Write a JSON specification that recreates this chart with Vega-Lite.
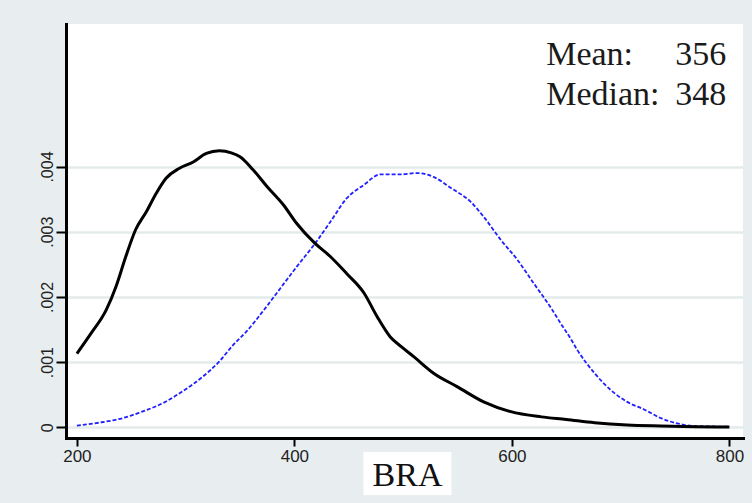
{
  "$schema": "https://vega.github.io/schema/vega-lite/v6.json",
  "width": 677,
  "height": 414,
  "autosize": "none",
  "padding": {"left": 66, "top": 24, "right": 9, "bottom": 65},
  "background": "#e8eef0",
  "config": {"view": {"fill": "white", "stroke": null}},
  "datasets": {
    "dens": [
      {"series": "BRA", "score": 200, "density": 0.00113},
      {"series": "BRA", "score": 213, "density": 0.00144},
      {"series": "BRA", "score": 227, "density": 0.0018},
      {"series": "BRA", "score": 236, "density": 0.00216},
      {"series": "BRA", "score": 245, "density": 0.00262},
      {"series": "BRA", "score": 254, "density": 0.00303},
      {"series": "BRA", "score": 264, "density": 0.00331},
      {"series": "BRA", "score": 273, "density": 0.00359},
      {"series": "BRA", "score": 282, "density": 0.00382},
      {"series": "BRA", "score": 294, "density": 0.00397},
      {"series": "BRA", "score": 307, "density": 0.00407},
      {"series": "BRA", "score": 319, "density": 0.0042},
      {"series": "BRA", "score": 331, "density": 0.00424},
      {"series": "BRA", "score": 342, "density": 0.00421},
      {"series": "BRA", "score": 350, "density": 0.00415},
      {"series": "BRA", "score": 362, "density": 0.00395},
      {"series": "BRA", "score": 375, "density": 0.00369},
      {"series": "BRA", "score": 390, "density": 0.00341},
      {"series": "BRA", "score": 402, "density": 0.00313},
      {"series": "BRA", "score": 419, "density": 0.00282},
      {"series": "BRA", "score": 433, "density": 0.00262},
      {"series": "BRA", "score": 448, "density": 0.00236},
      {"series": "BRA", "score": 464, "density": 0.00206},
      {"series": "BRA", "score": 476, "density": 0.0017},
      {"series": "BRA", "score": 488, "density": 0.00139},
      {"series": "BRA", "score": 498, "density": 0.00124},
      {"series": "BRA", "score": 510, "density": 0.00108},
      {"series": "BRA", "score": 528, "density": 0.00083},
      {"series": "BRA", "score": 550, "density": 0.00062},
      {"series": "BRA", "score": 574, "density": 0.00039},
      {"series": "BRA", "score": 599, "density": 0.00024},
      {"series": "BRA", "score": 627, "density": 0.00016},
      {"series": "BRA", "score": 650, "density": 0.00012},
      {"series": "BRA", "score": 676, "density": 0.00007},
      {"series": "BRA", "score": 706, "density": 0.000035},
      {"series": "BRA", "score": 737, "density": 0.00002},
      {"series": "BRA", "score": 768, "density": 0.00001},
      {"series": "BRA", "score": 800, "density": 0.000005},
      {"series": "Reference", "score": 200, "density": 0.000025},
      {"series": "Reference", "score": 220, "density": 0.00007},
      {"series": "Reference", "score": 242, "density": 0.00014},
      {"series": "Reference", "score": 260, "density": 0.00024},
      {"series": "Reference", "score": 279, "density": 0.00037},
      {"series": "Reference", "score": 297, "density": 0.00055},
      {"series": "Reference", "score": 316, "density": 0.00078},
      {"series": "Reference", "score": 331, "density": 0.00101},
      {"series": "Reference", "score": 343, "density": 0.00125},
      {"series": "Reference", "score": 356, "density": 0.00147},
      {"series": "Reference", "score": 372, "density": 0.0018},
      {"series": "Reference", "score": 387, "density": 0.00213},
      {"series": "Reference", "score": 402, "density": 0.00246},
      {"series": "Reference", "score": 419, "density": 0.00282},
      {"series": "Reference", "score": 433, "density": 0.00315},
      {"series": "Reference", "score": 448, "density": 0.00351},
      {"series": "Reference", "score": 464, "density": 0.00372},
      {"series": "Reference", "score": 479, "density": 0.00388},
      {"series": "Reference", "score": 498, "density": 0.00388},
      {"series": "Reference", "score": 513, "density": 0.0039},
      {"series": "Reference", "score": 528, "density": 0.00384},
      {"series": "Reference", "score": 544, "density": 0.00367},
      {"series": "Reference", "score": 562, "density": 0.00346},
      {"series": "Reference", "score": 574, "density": 0.00323},
      {"series": "Reference", "score": 590, "density": 0.00287},
      {"series": "Reference", "score": 605, "density": 0.00257},
      {"series": "Reference", "score": 620, "density": 0.00221},
      {"series": "Reference", "score": 636, "density": 0.00183},
      {"series": "Reference", "score": 645, "density": 0.00159},
      {"series": "Reference", "score": 654, "density": 0.00136},
      {"series": "Reference", "score": 660, "density": 0.00119},
      {"series": "Reference", "score": 676, "density": 0.00083},
      {"series": "Reference", "score": 691, "density": 0.00057},
      {"series": "Reference", "score": 706, "density": 0.00039},
      {"series": "Reference", "score": 722, "density": 0.00027},
      {"series": "Reference", "score": 737, "density": 0.00014},
      {"series": "Reference", "score": 752, "density": 0.00006},
      {"series": "Reference", "score": 768, "density": 0.00002},
      {"series": "Reference", "score": 800, "density": 0.00001}
    ],
    "stats": [
      {"stat": "Mean:", "value": 356},
      {"stat": "Median:", "value": 348}
    ]
  },
  "encoding": {
    "x": {
      "type": "quantitative",
      "scale": {"domain": [190, 812.5], "nice": false, "zero": false},
      "axis": {
        "values": [200, 400, 600, 800],
        "grid": false,
        "zindex": 1,
        "domainColor": "black",
        "domainWidth": 3,
        "domainCap": "square",
        "tickColor": "black",
        "tickWidth": 2,
        "tickSize": 8,
        "labelFont": "Liberation Sans",
        "labelFontSize": 17,
        "labelColor": "#222222",
        "labelPadding": 2,
        "title": "BRA",
        "titleFont": "Liberation Serif",
        "titleFontSize": 34,
        "titleFontWeight": "normal",
        "titleColor": "#111111",
        "titleBaseline": "alphabetic",
        "titleY": 47,
        "titleX": 341
      }
    },
    "y": {
      "type": "quantitative",
      "scale": {"domain": [-0.000164, 0.006186], "nice": false, "zero": false},
      "axis": {
        "values": [0, 0.001, 0.002, 0.003, 0.004],
        "grid": true,
        "gridColor": "#e3ebeb",
        "gridWidth": 2.5,
        "domainColor": "black",
        "domainWidth": 3,
        "domainCap": "square",
        "tickColor": "black",
        "tickWidth": 2,
        "tickSize": 10,
        "labelAngle": -90,
        "labelAlign": "center",
        "labelBaseline": "bottom",
        "labelFont": "Liberation Sans",
        "labelFontSize": 16,
        "labelColor": "#222222",
        "labelPadding": 1,
        "labelExpr": "datum.value == 0 ? '0' : replace(format(datum.value, '.3f'), '0.', '.')",
        "title": null
      }
    }
  },
  "layer": [
    {
      "data": {"values": [{"box": "title"}]},
      "mark": {"type": "rect", "color": "white"},
      "encoding": {
        "x": {"datum": 463.5, "type": "quantitative"},
        "x2": {"datum": 544.4},
        "y": {"datum": -0.000379, "type": "quantitative"},
        "y2": {"datum": -0.001038}
      }
    },
    {
      "data": {"name": "dens"},
      "transform": [{"filter": "datum.series == 'Reference'"}],
      "mark": {"type": "line", "color": "#2020ff", "strokeWidth": 1.8, "strokeDash": [4, 2], "interpolate": "monotone"},
      "encoding": {
        "x": {"field": "score", "type": "quantitative"},
        "y": {"field": "density", "type": "quantitative"}
      }
    },
    {
      "data": {"name": "dens"},
      "transform": [{"filter": "datum.series == 'BRA'"}],
      "mark": {"type": "line", "color": "black", "strokeWidth": 3, "interpolate": "monotone"},
      "encoding": {
        "x": {"field": "score", "type": "quantitative"},
        "y": {"field": "density", "type": "quantitative"}
      }
    },
    {
      "data": {"name": "stats"},
      "transform": [{"filter": "datum.stat == 'Mean:'"}],
      "mark": {"type": "text", "align": "left", "baseline": "alphabetic", "font": "Liberation Serif", "fontSize": 34, "color": "#1a1a1a"},
      "encoding": {
        "x": {"datum": 631.5, "type": "quantitative"},
        "y": {"datum": 0.005557, "type": "quantitative"},
        "text": {"field": "stat"}
      }
    },
    {
      "data": {"name": "stats"},
      "transform": [{"filter": "datum.stat == 'Mean:'"}],
      "mark": {"type": "text", "align": "right", "baseline": "alphabetic", "font": "Liberation Serif", "fontSize": 34, "color": "#1a1a1a"},
      "encoding": {
        "x": {"datum": 797, "type": "quantitative"},
        "y": {"datum": 0.005557, "type": "quantitative"},
        "text": {"field": "value"}
      }
    },
    {
      "data": {"name": "stats"},
      "transform": [{"filter": "datum.stat == 'Median:'"}],
      "mark": {"type": "text", "align": "left", "baseline": "alphabetic", "font": "Liberation Serif", "fontSize": 34, "color": "#1a1a1a"},
      "encoding": {
        "x": {"datum": 631.5, "type": "quantitative"},
        "y": {"datum": 0.004943, "type": "quantitative"},
        "text": {"field": "stat"}
      }
    },
    {
      "data": {"name": "stats"},
      "transform": [{"filter": "datum.stat == 'Median:'"}],
      "mark": {"type": "text", "align": "right", "baseline": "alphabetic", "font": "Liberation Serif", "fontSize": 34, "color": "#1a1a1a"},
      "encoding": {
        "x": {"datum": 797, "type": "quantitative"},
        "y": {"datum": 0.004943, "type": "quantitative"},
        "text": {"field": "value"}
      }
    }
  ]
}
